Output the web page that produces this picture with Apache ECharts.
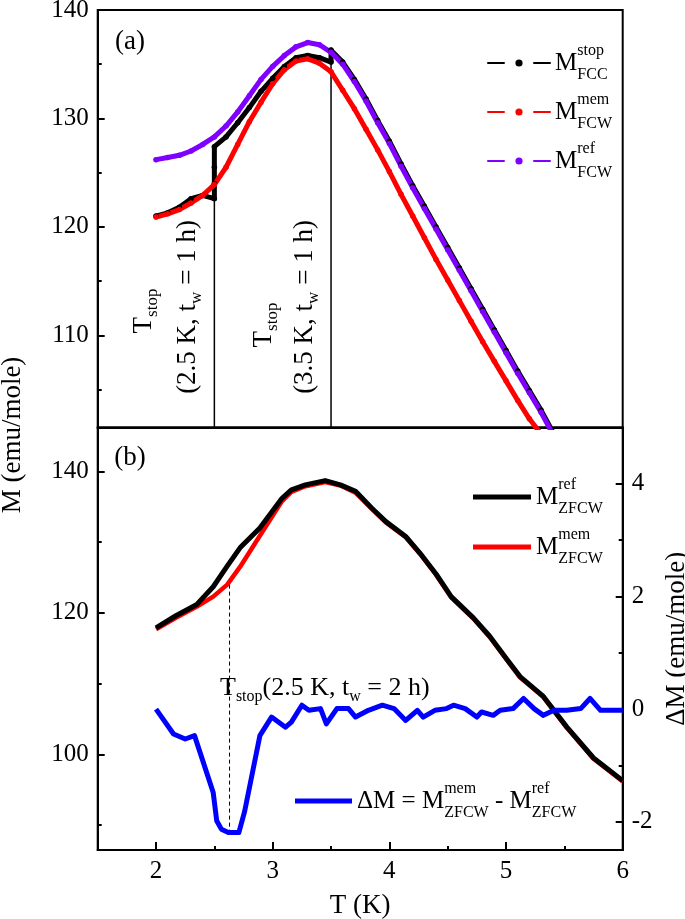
<!DOCTYPE html>
<html>
<head>
<meta charset="utf-8">
<script src="https://cdn.jsdelivr.net/npm/echarts@6/dist/echarts.min.js"></script>
<style>html,body{margin:0;padding:0;background:#fff;overflow:hidden;}#c{width:685px;height:919px;}</style>
</head>
<body>
<div id="c"></div>
<script>
// ---------- data: panel (a) ----------
const tA = [2.0,2.1,2.2,2.3,2.4,2.5,2.6,2.7,2.8,2.9,3.0,3.1,3.2,3.3,3.4,3.5,3.6,3.7,3.8,3.9,4.0,4.1,4.2,4.3,4.4,4.5,4.6,4.7,4.8,4.9,5.0,5.1,5.2,5.3,5.4];
const mRefFCW = [126.2,126.4,126.6,127.0,127.6,128.3,129.3,130.6,132.1,133.6,134.8,135.8,136.6,137.0,136.8,136.1,135.0,133.4,131.6,129.6,127.7,125.6,123.6,121.7,119.8,117.9,116.0,114.1,112.2,110.3,108.4,106.5,104.7,102.9,100.9];
const mMemFCW = [120.9,121.2,121.6,122.2,122.9,123.9,125.5,127.6,129.7,131.5,133.2,134.5,135.3,135.5,135.1,134.3,132.6,130.9,129.0,127.1,125.1,123.0,121.0,119.0,117.0,115.1,113.2,111.3,109.4,107.6,105.8,104.0,102.3,100.9,99.2];
const tStop = [2.0,2.1,2.2,2.3,2.4,2.5,2.5,2.5,2.5,2.6,2.7,2.8,2.9,3.0,3.1,3.2,3.3,3.4,3.5,3.5,3.6,3.7,3.8,3.9,4.0,4.1,4.2,4.3,4.4,4.5,4.6,4.7,4.8,4.9,5.0,5.1,5.2,5.3,5.4];
const mStopFCC = [121.0,121.3,121.8,122.6,122.9,122.6,124.0,125.5,127.4,128.3,129.6,131.0,132.5,133.7,134.8,135.6,135.8,135.6,135.2,136.3,135.2,133.6,131.8,129.8,127.9,125.8,123.8,121.9,120.0,118.1,116.2,114.3,112.4,110.5,108.6,106.7,104.9,103.1,101.1];
const stopLinesA = [[2.5,122.6],[3.5,135.8]]; // stop temperature, M where the marker line starts

// ---------- data: panel (b) ----------
const tZ = [2.00,2.17,2.35,2.49,2.61,2.72,2.89,3.08,3.16,3.28,3.45,3.58,3.71,3.85,3.97,4.14,4.26,4.40,4.53,4.72,4.86,5.01,5.12,5.32,5.52,5.75,6.00];
const mRefZFCW = [117.9,119.6,121.2,123.7,126.6,129.2,132.0,136.2,137.4,138.1,138.7,138.1,137.2,134.8,132.9,130.8,128.5,125.5,122.3,119.3,116.7,113.4,111.0,108.2,103.9,99.5,96.3];
const mMemZFCW = [117.7,119.3,120.9,122.3,124.0,126.5,130.9,135.8,137.1,137.9,138.5,138.0,137.0,134.7,132.8,130.7,128.4,125.4,122.2,119.2,116.6,113.3,110.9,108.1,103.8,99.4,96.2];
const tD = [2.00,2.15,2.25,2.33,2.49,2.52,2.56,2.62,2.71,2.76,2.89,2.99,3.11,3.16,3.25,3.31,3.41,3.46,3.55,3.65,3.71,3.82,3.94,4.04,4.14,4.24,4.29,4.39,4.49,4.55,4.65,4.75,4.79,4.89,4.95,5.06,5.15,5.24,5.32,5.41,5.52,5.64,5.72,5.81,6.00];
const dM = [0.0,-0.44,-0.53,-0.47,-1.48,-1.98,-2.13,-2.19,-2.19,-1.81,-0.47,-0.14,-0.32,-0.23,0.07,-0.02,0.01,-0.26,0.01,0.01,-0.14,-0.02,0.07,0.01,-0.20,-0.02,-0.14,-0.02,0.01,0.07,0.01,-0.14,-0.05,-0.11,-0.02,0.01,0.19,0.01,-0.11,-0.02,-0.02,0.01,0.19,-0.02,-0.02];
const stopLineB = [2.63, 124.0, 89.3];

// ---------- ticks ----------
const xMajor = [2,3,4,5,6], xMinor = [2.5,3.5,4.5,5.5];
const yAMajor = [110,120,130,140], yAMinor = [105,115,125,135];
const yBMajor = [100,120,140], yBMinor = [90,110,130];
const dMajor = [-2,0,2,4], dMinor = [-1,1,3];

const FONT = "'Liberation Serif','Times New Roman',serif";
const zip = (a,b) => a.map((v,i)=>[v,b[i]]);

const tickLS = {color:'#000', width:2};
function axisY(grid, min, max, major, pos, opts) {
  return Object.assign({
    type:'value', gridIndex:grid, min:min, max:max, position:pos,
    axisLine:{show:true, onZero:false, lineStyle:{color:'#000', width:2}},
    axisTick:{show:true, inside:true, length:7, customValues:major, lineStyle:tickLS},
    axisLabel:{show:true, customValues:major, color:'#000', fontSize:25, fontFamily:FONT, margin:9},
    splitLine:{show:false}
  }, opts||{});
}
function minorY(grid, min, max, minor, pos) {
  return {type:'value', gridIndex:grid, min:min, max:max, position:pos,
    axisLine:{show:false, onZero:false},
    axisTick:{show:true, inside:true, length:4, customValues:minor, lineStyle:tickLS},
    axisLabel:{show:false}, splitLine:{show:false}};
}

const supSub = {
  m:{fontSize:25, fontFamily:FONT, color:'#000', lineHeight:40},
  sup:{fontSize:16, fontFamily:FONT, color:'#000', verticalAlign:'top', lineHeight:16, width:0.1},
  sub:{fontSize:16, fontFamily:FONT, color:'#000', verticalAlign:'bottom', lineHeight:16}
};
const legendText = {
  stopFCC:'{m|M}{sup|stop}{sub|FCC}',
  memFCW:'{m|M}{sup|mem}{sub|FCW}',
  refFCW:'{m|M}{sup|ref}{sub|FCW}',
  refZFCW:'{m|M}{sup|ref}{sub|ZFCW}',
  memZFCW:'{m|M}{sup|mem}{sub|ZFCW}',
  dM:'{m|ΔM = M}{sup|mem}{sub|ZFCW}{m| - M}{sup|ref}{sub|ZFCW}'
};
const fmt = n => legendText[n];

function txt(x, y, text, rot, align, size, subSize) {
  return {type:'text', x:x, y:y, rotation:rot||0, z:100,
    style:{text:text, align:align||'center', verticalAlign:'middle', fill:'#000',
      font:size+'px '+FONT,
      rich:{m:{fontSize:size, fontFamily:FONT, fill:'#000', lineHeight:34},
            sub:{fontSize:subSize||16, fontFamily:FONT, fill:'#000', verticalAlign:'bottom', lineHeight:16}}}};
}

const chart = echarts.init(document.getElementById('c'), null, {renderer:'canvas'});
const option = {
  backgroundColor:'#fff',
  animation:false,
  grid:[
    {left:97.7, right:62.3, top:10, height:417.5, show:true, borderColor:'#000', borderWidth:2, containLabel:false, outerBoundsMode:'none'},
    {left:97.7, right:62.3, top:427.5, height:422.5, show:true, borderColor:'#000', borderWidth:2, containLabel:false, outerBoundsMode:'none'}
  ],
  xAxis:[
    {type:'value', gridIndex:0, min:1.5, max:6, position:'bottom',
      axisLine:{show:true, onZero:false, lineStyle:{color:'#000', width:2}},
      axisTick:{show:false}, axisLabel:{show:false}, splitLine:{show:false}},
    {type:'value', gridIndex:1, min:1.5, max:6, position:'bottom',
      axisLine:{show:true, onZero:false, lineStyle:{color:'#000', width:2}},
      axisTick:{show:true, inside:true, length:8, customValues:xMajor, lineStyle:tickLS},
      axisLabel:{show:true, customValues:xMajor, color:'#000', fontSize:25, fontFamily:FONT, margin:9},
      splitLine:{show:false},
      name:'T (K)', nameLocation:'middle', nameGap:42,
      nameTextStyle:{color:'#000', fontSize:27, fontFamily:FONT}},
    {type:'value', gridIndex:1, min:1.5, max:6, position:'bottom',
      axisLine:{show:false, onZero:false},
      axisTick:{show:true, inside:true, length:4, customValues:xMinor, lineStyle:tickLS},
      axisLabel:{show:false}, splitLine:{show:false}}
  ],
  yAxis:[
    axisY(0, 101.5, 140, yAMajor, 'left'),
    minorY(0, 101.5, 140, yAMinor, 'left'),
    axisY(1, 86.5, 146.2, yBMajor, 'left'),
    minorY(1, 86.5, 146.2, yBMinor, 'left'),
    axisY(1, -2.5, 5, dMajor, 'right', {name:'ΔM (emu/mole)', nameLocation:'middle', nameGap:36, nameRotate:90,
      nameTextStyle:{color:'#000', fontSize:27, fontFamily:FONT}}),
    minorY(1, -2.5, 5, dMinor, 'right')
  ],
  legend:[
    {left:482, top:38, orient:'vertical', itemWidth:62, itemHeight:9, itemGap:9, selectedMode:false,
      data:['stopFCC','memFCW','refFCW'], formatter:fmt,
      textStyle:{rich:supSub}, lineStyle:{width:2, type:[16,30]}},
    {left:468, top:472, orient:'vertical', itemWidth:58, itemHeight:5, itemGap:10, selectedMode:false, icon:'rect',
      data:['refZFCW','memZFCW'], formatter:fmt, textStyle:{rich:supSub}},
    {left:290, top:776, orient:'vertical', itemWidth:57, itemHeight:5, selectedMode:false, icon:'rect',
      data:['dM'], formatter:fmt, textStyle:{rich:supSub}}
  ],
  series:[
    {name:'stopLineA1', type:'line', xAxisIndex:0, yAxisIndex:0, silent:true, symbol:'none',
      data:[[stopLinesA[0][0], stopLinesA[0][1]],[stopLinesA[0][0], 101.5]], lineStyle:{color:'#000', width:1.5}},
    {name:'stopLineA2', type:'line', xAxisIndex:0, yAxisIndex:0, silent:true, symbol:'none',
      data:[[stopLinesA[1][0], stopLinesA[1][1]],[stopLinesA[1][0], 101.5]], lineStyle:{color:'#000', width:1.5}},
    {name:'stopFCC', type:'line', xAxisIndex:0, yAxisIndex:0, data:zip(tStop, mStopFCC),
      symbol:'circle', symbolSize:5.5, showSymbol:true, itemStyle:{color:'#000'},
      lineStyle:{color:'#000', width:5, cap:'round', join:'round'}},
    {name:'memFCW', type:'line', xAxisIndex:0, yAxisIndex:0, data:zip(tA, mMemFCW),
      symbol:'circle', symbolSize:5.5, showSymbol:true, itemStyle:{color:'#ff0000'},
      lineStyle:{color:'#ff0000', width:5, cap:'round', join:'round'}},
    {name:'refFCW', type:'line', xAxisIndex:0, yAxisIndex:0, data:zip(tA, mRefFCW),
      symbol:'circle', symbolSize:5.5, showSymbol:true, itemStyle:{color:'#7f00ff'},
      lineStyle:{color:'#7f00ff', width:5, cap:'round', join:'round'}},

    {name:'stopLineB', type:'line', xAxisIndex:1, yAxisIndex:2, silent:true, symbol:'none',
      data:[[stopLineB[0], stopLineB[1]],[stopLineB[0], stopLineB[2]]], lineStyle:{color:'#000', width:1, type:[4,3]}},
    {name:'memZFCW', type:'line', xAxisIndex:1, yAxisIndex:2, data:zip(tZ, mMemZFCW), symbol:'none',
      itemStyle:{color:'#ff0000'}, lineStyle:{color:'#ff0000', width:4.5, join:'round'}},
    {name:'refZFCW', type:'line', xAxisIndex:1, yAxisIndex:2, data:zip(tZ, mRefZFCW), symbol:'none',
      itemStyle:{color:'#000'}, lineStyle:{color:'#000', width:5, join:'round'}},
    {name:'dM', type:'line', xAxisIndex:1, yAxisIndex:4, data:zip(tD, dM), symbol:'none',
      itemStyle:{color:'#0000ff'}, lineStyle:{color:'#0000ff', width:5, join:'round'}}
  ],
  graphic:[
    txt(130, 42, '(a)', 0, 'center', 27),
    txt(130, 458, '(b)', 0, 'center', 27),
    txt(144, 311, '{m|T}{sub|stop}', Math.PI/2, 'center', 27, 17),
    txt(188, 307, '{m|(2.5 K, t}{sub|w}{m| = 1 h)}', Math.PI/2, 'center', 27, 17),
    txt(264, 325, '{m|T}{sub|stop}', Math.PI/2, 'center', 27, 17),
    txt(305, 307, '{m|(3.5 K, t}{sub|w}{m| = 1 h)}', Math.PI/2, 'center', 27, 17),
    txt(220, 688, '{m|T}{sub|stop}{m|(2.5 K, t}{sub|w}{m| = 2 h)}', 0, 'left', 26, 16),
    txt(13, 435, 'M (emu/mole)', Math.PI/2, 'center', 27)
  ]
};
chart.setOption(option);
</script>
</body>
</html>
